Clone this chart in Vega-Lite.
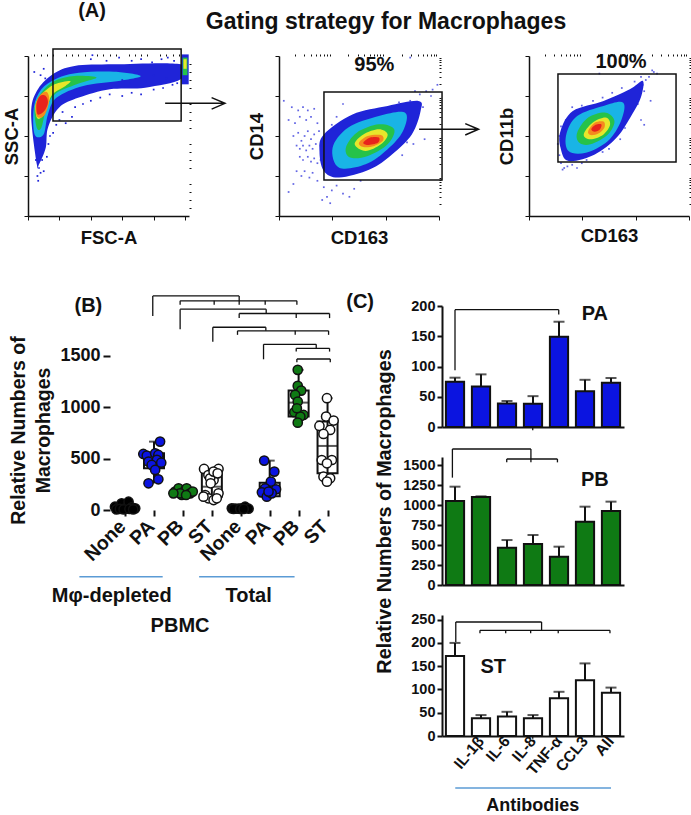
{
"$schema":"https://vega.github.io/schema/vega-lite/v6.json",
"background":"white",
"padding":{"left":2,"top":1,"right":0,"bottom":0},
"config":{"view":{"stroke":null},"font":"Liberation Sans",
"axis":{"labelFont":"Liberation Sans","titleFont":"Liberation Sans","labelFontWeight":"bold","titleFontWeight":"bold","labelColor":"#111","titleColor":"#111","domainColor":"#111","tickColor":"#111","grid":false,"labelOverlap":false,"format":"d"},
"text":{"font":"Liberation Sans","fontWeight":"bold","color":"#111"}},
"resolve":{"scale":{"fill":"independent"}},
"datasets":{
"c1":[
{"level":0,"i":1,"x":5.6,"y":32.3},{"level":0,"i":2,"x":2,"y":63.5},{"level":0,"i":3,"x":5.6,"y":78.1},{"level":0,"i":4,"x":15.5,"y":88.5},{"level":0,"i":5,"x":29.6,"y":93.8},{"level":0,"i":6,"x":54.9,"y":94.8},{"level":0,"i":7,"x":97.2,"y":94.8},{"level":0,"i":8,"x":97.2,"y":85.4},{"level":0,"i":9,"x":74.6,"y":80.2},{"level":0,"i":10,"x":52.1,"y":79.2},{"level":0,"i":11,"x":32.4,"y":74},{"level":0,"i":12,"x":19.7,"y":67.7},{"level":0,"i":13,"x":12.7,"y":55.2},{"level":0,"i":14,"x":11.3,"y":42.7},{"level":0,"i":15,"x":7,"y":32.3},
{"level":1,"i":1,"x":4.2,"y":51},{"level":1,"i":2,"x":3.7,"y":67.7},{"level":1,"i":3,"x":8.5,"y":79.2},{"level":1,"i":4,"x":18.3,"y":86},{"level":1,"i":5,"x":32.4,"y":89.6},{"level":1,"i":6,"x":54.9,"y":90.2},{"level":1,"i":7,"x":71.8,"y":87.5},{"level":1,"i":8,"x":57.7,"y":84.4},{"level":1,"i":9,"x":35.2,"y":81.3},{"level":1,"i":10,"x":18.3,"y":74},{"level":1,"i":11,"x":12.7,"y":63.5},{"level":1,"i":12,"x":9.9,"y":51},
{"level":2,"i":1,"x":5.6,"y":55.2},{"level":2,"i":2,"x":4.2,"y":67.7},{"level":2,"i":3,"x":8.5,"y":77},{"level":2,"i":4,"x":16.9,"y":84.4},{"level":2,"i":5,"x":29.6,"y":87.5},{"level":2,"i":6,"x":43.7,"y":86.5},{"level":2,"i":7,"x":31,"y":82.3},{"level":2,"i":8,"x":16.9,"y":76},{"level":2,"i":9,"x":11.3,"y":65.6},{"level":2,"i":10,"x":8.5,"y":55.2},
{"level":3,"i":1,"x":5.6,"y":61.5},{"level":3,"i":2,"x":4.8,"y":69.8},{"level":3,"i":3,"x":8.5,"y":76},{"level":3,"i":4,"x":16.9,"y":82.3},{"level":3,"i":5,"x":26.8,"y":84.4},{"level":3,"i":6,"x":23.9,"y":81.3},{"level":3,"i":7,"x":15.5,"y":76},{"level":3,"i":8,"x":12.1,"y":67.7},{"level":3,"i":9,"x":8.5,"y":61.5},
{"level":4,"i":1,"x":5.8,"y":62},{"level":4,"i":2,"x":5,"y":70},{"level":4,"i":3,"x":8,"y":76},{"level":4,"i":4,"x":12,"y":77.5},{"level":4,"i":5,"x":13.5,"y":72},{"level":4,"i":6,"x":10.5,"y":63},
{"level":5,"i":1,"x":6.2,"y":63.5},{"level":5,"i":2,"x":5.4,"y":69.8},{"level":5,"i":3,"x":7.6,"y":75},{"level":5,"i":4,"x":11.3,"y":75},{"level":5,"i":5,"x":12.7,"y":70.8},{"level":5,"i":6,"x":10.4,"y":65.6}],
"c1b":[
{"level":0,"i":1,"x":97.7,"y":82.3},{"level":0,"i":2,"x":97.7,"y":101},{"level":0,"i":3,"x":102.3,"y":101},{"level":0,"i":4,"x":102.3,"y":82.3},
{"level":2,"i":1,"x":98.5,"y":88},{"level":2,"i":2,"x":98.5,"y":99},{"level":2,"i":3,"x":101.5,"y":99},{"level":2,"i":4,"x":101.5,"y":88},
{"level":3,"i":1,"x":99,"y":92},{"level":3,"i":2,"x":99,"y":98},{"level":3,"i":3,"x":101,"y":98},{"level":3,"i":4,"x":101,"y":92}],
"d1":[{"x":7,"y":30},{"x":6,"y":25},{"x":6.5,"y":22},{"x":9,"y":35},{"x":10,"y":28},{"x":5,"y":35},{"x":8,"y":27},{"x":12,"y":37},{"x":13,"y":45},{"x":14,"y":50},{"x":16,"y":52},{"x":18,"y":57},{"x":20,"y":60},{"x":24,"y":58},{"x":28,"y":62},{"x":22,"y":65},{"x":30,"y":68},{"x":35,"y":70},{"x":40,"y":72},{"x":46,"y":74},{"x":52,"y":76},{"x":60,"y":75},{"x":66,"y":77},{"x":72,"y":76},{"x":80,"y":79},{"x":86,"y":80},{"x":92,"y":82},{"x":95,"y":83},{"x":40,"y":98},{"x":50,"y":97},{"x":58,"y":99},{"x":66,"y":97},{"x":72,"y":98},{"x":79,"y":96},{"x":85,"y":98},{"x":89,"y":99},{"x":93,"y":97},{"x":41,"y":100.5},{"x":4,"y":90},{"x":8,"y":88},{"x":10,"y":92},{"x":11,"y":86},{"x":60,"y":85},{"x":70,"y":90},{"x":80,"y":88},{"x":88,"y":86},{"x":75,"y":84},{"x":65,"y":83}],
"c2":[
{"level":0,"i":1,"x":28,"y":51},{"level":0,"i":2,"x":45.9,"y":63.5},{"level":0,"i":3,"x":67.9,"y":68.8},{"level":0,"i":4,"x":87.1,"y":71.9},{"level":0,"i":5,"x":88.5,"y":65.6},{"level":0,"i":6,"x":83,"y":51},{"level":0,"i":7,"x":70.6,"y":38.5},{"level":0,"i":8,"x":56.9,"y":29.2},{"level":0,"i":9,"x":37.6,"y":24},{"level":0,"i":10,"x":28,"y":28.1},{"level":0,"i":11,"x":25.3,"y":40.6},
{"level":1,"i":1,"x":33.5,"y":42.7},{"level":1,"i":2,"x":43.1,"y":55.2},{"level":1,"i":3,"x":62.4,"y":62.5},{"level":1,"i":4,"x":78.8,"y":64.6},{"level":1,"i":5,"x":77.5,"y":53.1},{"level":1,"i":6,"x":67.9,"y":41.7},{"level":1,"i":7,"x":54.1,"y":32.3},{"level":1,"i":8,"x":37.6,"y":30.2},
{"level":2,"i":1,"x":41.8,"y":42.7},{"level":2,"i":2,"x":48.6,"y":52.1},{"level":2,"i":3,"x":62.4,"y":57.3},{"level":2,"i":4,"x":72,"y":54.2},{"level":2,"i":5,"x":67.9,"y":44.8},{"level":2,"i":6,"x":55.5,"y":37.5},{"level":2,"i":7,"x":44.5,"y":36.5},
{"level":3,"i":1,"x":47.3,"y":44.8},{"level":3,"i":2,"x":52.7,"y":51},{"level":3,"i":3,"x":62.4,"y":54.2},{"level":3,"i":4,"x":67.9,"y":51},{"level":3,"i":5,"x":63.7,"y":44.8},{"level":3,"i":6,"x":54.1,"y":40.6},
{"level":4,"i":1,"x":50,"y":45.8},{"level":4,"i":2,"x":55.5,"y":50},{"level":4,"i":3,"x":63.7,"y":50.6},{"level":4,"i":4,"x":65.1,"y":47.3},{"level":4,"i":5,"x":59.6,"y":43.8},{"level":4,"i":6,"x":52.7,"y":43.1},
{"level":5,"i":1,"x":52.7,"y":45.8},{"level":5,"i":2,"x":56.9,"y":49},{"level":5,"i":3,"x":62.4,"y":49},{"level":5,"i":4,"x":61.8,"y":45.8},{"level":5,"i":5,"x":55.5,"y":44.4}],
"d2":[{"x":3,"y":72},{"x":8,"y":68},{"x":12,"y":66},{"x":15,"y":68},{"x":18,"y":66},{"x":22,"y":67},{"x":6,"y":60},{"x":10,"y":58},{"x":13,"y":62},{"x":17,"y":60},{"x":20,"y":62},{"x":24,"y":58},{"x":9,"y":50},{"x":12,"y":52},{"x":14,"y":47},{"x":16,"y":50},{"x":18,"y":53},{"x":20,"y":48},{"x":22,"y":51},{"x":25,"y":53},{"x":11,"y":44},{"x":13,"y":42},{"x":15,"y":44},{"x":17,"y":41},{"x":19,"y":44},{"x":21,"y":42},{"x":23,"y":45},{"x":26,"y":44},{"x":13,"y":37},{"x":15,"y":35},{"x":18,"y":37},{"x":20,"y":34},{"x":22,"y":36},{"x":24,"y":33},{"x":26,"y":35},{"x":6,"y":15},{"x":9,"y":20},{"x":11,"y":28},{"x":14,"y":25},{"x":16,"y":28},{"x":19,"y":24},{"x":21,"y":27},{"x":24,"y":22},{"x":28,"y":18},{"x":30,"y":12},{"x":33,"y":16},{"x":36,"y":19},{"x":40,"y":14},{"x":44,"y":12},{"x":47,"y":17},{"x":51,"y":22},{"x":32,"y":8},{"x":27,"y":10},{"x":88,"y":76},{"x":85,"y":78},{"x":92,"y":78},{"x":95,"y":75},{"x":96,"y":79},{"x":99,"y":82},{"x":90,"y":68},{"x":82,"y":72},{"x":75,"y":71},{"x":84,"y":45},{"x":80,"y":46},{"x":77,"y":38},{"x":91,"y":48},{"x":82,"y":99},{"x":40,"y":70},{"x":36,"y":62},{"x":33,"y":57}],
"c3":[
{"level":0,"i":1,"x":19.7,"y":53.1},{"level":0,"i":2,"x":27.4,"y":65.6},{"level":0,"i":3,"x":46.6,"y":71.9},{"level":0,"i":4,"x":63,"y":79.2},{"level":0,"i":5,"x":71.2,"y":84.4},{"level":0,"i":6,"x":69.9,"y":74},{"level":0,"i":7,"x":64.4,"y":63.5},{"level":0,"i":8,"x":54.8,"y":49},{"level":0,"i":9,"x":41.1,"y":38.5},{"level":0,"i":10,"x":24.7,"y":34.4},{"level":0,"i":11,"x":19.7,"y":42.7},
{"level":1,"i":1,"x":23.3,"y":51},{"level":1,"i":2,"x":30.1,"y":62.5},{"level":1,"i":3,"x":46.6,"y":68.8},{"level":1,"i":4,"x":58.9,"y":70.8},{"level":1,"i":5,"x":57.5,"y":59.4},{"level":1,"i":6,"x":49.3,"y":46.9},{"level":1,"i":7,"x":35.6,"y":39.6},{"level":1,"i":8,"x":24.7,"y":40.6},
{"level":2,"i":1,"x":30.1,"y":52.1},{"level":2,"i":2,"x":37,"y":61.5},{"level":2,"i":3,"x":47.9,"y":64.6},{"level":2,"i":4,"x":53.4,"y":59.4},{"level":2,"i":5,"x":49.3,"y":51},{"level":2,"i":6,"x":38.4,"y":44.8},{"level":2,"i":7,"x":31.5,"y":45.8},
{"level":3,"i":1,"x":34.2,"y":51},{"level":3,"i":2,"x":39.7,"y":58.3},{"level":3,"i":3,"x":47.9,"y":61.5},{"level":3,"i":4,"x":50.7,"y":57.3},{"level":3,"i":5,"x":46.6,"y":51},{"level":3,"i":6,"x":38.4,"y":47.9},
{"level":4,"i":1,"x":37,"y":53.1},{"level":4,"i":2,"x":41.1,"y":58.3},{"level":4,"i":3,"x":46.6,"y":59},{"level":4,"i":4,"x":47.1,"y":55.2},{"level":4,"i":5,"x":43.3,"y":51.5},{"level":4,"i":6,"x":38.4,"y":50.6},
{"level":5,"i":1,"x":38.9,"y":54.2},{"level":5,"i":2,"x":41.6,"y":57},{"level":5,"i":3,"x":45.2,"y":57.3},{"level":5,"i":4,"x":44.4,"y":54.2},{"level":5,"i":5,"x":41.1,"y":52.7}],
"d3":[{"x":20,"y":33},{"x":22,"y":30},{"x":21,"y":29},{"x":24,"y":31},{"x":27,"y":32},{"x":30,"y":30},{"x":33,"y":33},{"x":36,"y":35},{"x":19,"y":38},{"x":18,"y":45},{"x":19,"y":50},{"x":20,"y":56},{"x":23,"y":60},{"x":27,"y":68},{"x":33,"y":69},{"x":40,"y":72},{"x":46,"y":74},{"x":52,"y":77},{"x":58,"y":80},{"x":66,"y":84},{"x":70,"y":87},{"x":71,"y":82},{"x":72,"y":78},{"x":68,"y":70},{"x":76,"y":72},{"x":70,"y":60},{"x":72,"y":57},{"x":60,"y":55},{"x":57,"y":48},{"x":50,"y":42},{"x":46,"y":40},{"x":44,"y":89},{"x":78,"y":90},{"x":80,"y":89},{"x":77,"y":91},{"x":75,"y":87},{"x":73,"y":85}],
"box":[
{"pos":1,"lo":6,"q1":8,"med":16,"q3":30,"hi":81,"grp":"None"},
{"pos":2,"lo":260,"q1":406,"med":471,"q3":552,"hi":666,"grp":"PA"},
{"pos":3,"lo":146,"q1":150,"med":170,"q3":200,"hi":211,"grp":"PB"},
{"pos":4,"lo":97,"q1":130,"med":227,"q3":364,"hi":400,"grp":"ST"},
{"pos":5,"lo":10,"q1":12,"med":14,"q3":18,"hi":32,"grp":"None"},
{"pos":6,"lo":130,"q1":135,"med":195,"q3":266,"hi":481,"grp":"PA"},
{"pos":7,"lo":851,"q1":910,"med":1046,"q3":1163,"hi":1365,"grp":"PB"},
{"pos":8,"lo":276,"q1":357,"med":624,"q3":861,"hi":1089,"grp":"ST"}],
"pts":[
{"x":0.65,"v":32,"grp":"None"},{"x":0.77,"v":23,"grp":"None"},{"x":0.88,"v":65,"grp":"None"},{"x":1,"v":16,"grp":"None"},{"x":1.12,"v":81,"grp":"None"},{"x":1.23,"v":26,"grp":"None"},{"x":1.35,"v":16,"grp":"None"},{"x":0.7,"v":6,"grp":"None"},{"x":0.82,"v":10,"grp":"None"},{"x":0.95,"v":6,"grp":"None"},{"x":1.15,"v":10,"grp":"None"},{"x":1.28,"v":6,"grp":"None"},
{"x":2.21,"v":666,"grp":"PA"},{"x":1.63,"v":546,"grp":"PA"},{"x":1.75,"v":530,"grp":"PA"},{"x":2.04,"v":552,"grp":"PA"},{"x":2.15,"v":536,"grp":"PA"},{"x":1.81,"v":471,"grp":"PA"},{"x":2.1,"v":488,"grp":"PA"},{"x":1.92,"v":439,"grp":"PA"},{"x":2.25,"v":461,"grp":"PA"},{"x":2.04,"v":390,"grp":"PA"},{"x":2.15,"v":299,"grp":"PA"},{"x":1.81,"v":260,"grp":"PA"},
{"x":2.73,"v":179,"grp":"PB"},{"x":2.85,"v":211,"grp":"PB"},{"x":2.96,"v":146,"grp":"PB"},{"x":3.08,"v":195,"grp":"PB"},{"x":3.13,"v":211,"grp":"PB"},{"x":3.25,"v":162,"grp":"PB"},{"x":3.34,"v":179,"grp":"PB"},{"x":2.9,"v":162,"grp":"PB"},{"x":3.11,"v":146,"grp":"PB"},{"x":2.67,"v":162,"grp":"PB"},
{"x":3.73,"v":400,"grp":"ST"},{"x":4.23,"v":400,"grp":"ST"},{"x":3.88,"v":341,"grp":"ST"},{"x":4.06,"v":292,"grp":"ST"},{"x":3.94,"v":309,"grp":"ST"},{"x":4.06,"v":374,"grp":"ST"},{"x":3.77,"v":146,"grp":"ST"},{"x":3.88,"v":114,"grp":"ST"},{"x":4.06,"v":97,"grp":"ST"},{"x":4.23,"v":162,"grp":"ST"},{"x":3.71,"v":130,"grp":"ST"},{"x":4.17,"v":114,"grp":"ST"},{"x":3.96,"v":260,"grp":"ST"},{"x":4.2,"v":357,"grp":"ST"},
{"x":4.69,"v":16,"grp":"None"},{"x":4.81,"v":13,"grp":"None"},{"x":4.92,"v":13,"grp":"None"},{"x":5.04,"v":16,"grp":"None"},{"x":5.15,"v":32,"grp":"None"},{"x":5.27,"v":13,"grp":"None"},{"x":4.75,"v":10,"grp":"None"},{"x":4.98,"v":10,"grp":"None"},{"x":5.1,"v":10,"grp":"None"},
{"x":5.81,"v":481,"grp":"PA"},{"x":6.16,"v":374,"grp":"PA"},{"x":6.04,"v":276,"grp":"PA"},{"x":5.84,"v":211,"grp":"PA"},{"x":6.22,"v":201,"grp":"PA"},{"x":5.73,"v":172,"grp":"PA"},{"x":5.9,"v":130,"grp":"PA"},{"x":6.07,"v":162,"grp":"PA"},{"x":5.96,"v":179,"grp":"PA"},
{"x":6.97,"v":1365,"grp":"PB"},{"x":6.97,"v":1209,"grp":"PB"},{"x":7.09,"v":1163,"grp":"PB"},{"x":6.88,"v":1121,"grp":"PB"},{"x":6.97,"v":1056,"grp":"PB"},{"x":7.17,"v":926,"grp":"PB"},{"x":6.85,"v":952,"grp":"PB"},{"x":7.06,"v":910,"grp":"PB"},{"x":6.97,"v":851,"grp":"PB"},{"x":6.94,"v":991,"grp":"PB"},
{"x":7.98,"v":1089,"grp":"ST"},{"x":7.95,"v":910,"grp":"ST"},{"x":8.21,"v":871,"grp":"ST"},{"x":7.72,"v":819,"grp":"ST"},{"x":8.09,"v":780,"grp":"ST"},{"x":7.86,"v":741,"grp":"ST"},{"x":7.8,"v":487,"grp":"ST"},{"x":8.15,"v":487,"grp":"ST"},{"x":7.98,"v":455,"grp":"ST"},{"x":7.86,"v":325,"grp":"ST"},{"x":8.09,"v":309,"grp":"ST"},{"x":7.98,"v":276,"grp":"ST"}],
"brB":[
{"x":1.957,"y":1890,"x2":1.957,"y2":2085},{"x":1.957,"y":2085,"x2":4.945,"y2":2085},{"x":4.945,"y":2085,"x2":4.945,"y2":1999},
{"x":2.903,"y":2037,"x2":6.94,"y2":2037},{"x":2.903,"y":2037,"x2":2.903,"y2":1999},{"x":4.08,"y":2037,"x2":4.08,"y2":1999},{"x":5.844,"y":2037,"x2":5.844,"y2":1999},{"x":6.94,"y":2037,"x2":6.94,"y2":1999},
{"x":2.903,"y":1760,"x2":2.903,"y2":1956},{"x":2.903,"y":1956,"x2":5.879,"y2":1956},{"x":5.879,"y":1956,"x2":5.879,"y2":1917},
{"x":4.945,"y":1914,"x2":8.07,"y2":1914},{"x":4.945,"y":1914,"x2":4.945,"y2":1869},{"x":6.917,"y":1914,"x2":6.917,"y2":1869},{"x":8.07,"y":1914,"x2":8.07,"y2":1869},
{"x":4.033,"y":1640,"x2":4.033,"y2":1780},{"x":4.033,"y":1780,"x2":5.867,"y2":1780},{"x":5.867,"y":1780,"x2":5.867,"y2":1747},
{"x":4.887,"y":1745,"x2":8.036,"y2":1745},{"x":4.887,"y":1745,"x2":4.887,"y2":1706},{"x":6.882,"y":1745,"x2":6.882,"y2":1706},{"x":8.036,"y":1745,"x2":8.036,"y2":1706},
{"x":5.787,"y":1468,"x2":5.787,"y2":1614},{"x":5.787,"y":1614,"x2":7.609,"y2":1614},{"x":7.609,"y":1614,"x2":7.609,"y2":1575},
{"x":6.917,"y":1575,"x2":8.07,"y2":1575},{"x":6.917,"y":1575,"x2":6.917,"y2":1543},{"x":8.07,"y":1575,"x2":8.07,"y2":1543},
{"x":6.94,"y":1471,"x2":8.094,"y2":1471},{"x":6.94,"y":1471,"x2":6.94,"y2":1439},{"x":8.094,"y":1471,"x2":8.094,"y2":1439}],
"pa":[{"ab":"Control","v":75,"hi":81.5},{"ab":"IL-1β","v":67,"hi":87},{"ab":"IL-6","v":39,"hi":43},{"ab":"IL-8","v":38.6,"hi":51},{"ab":"TNF-α","v":149,"hi":174},{"ab":"CCL3","v":59,"hi":78},{"ab":"All","v":73,"hi":81}],
"pb":[{"ab":"Control","v":1050,"hi":1229},{"ab":"IL-1β","v":1100,"hi":1108},{"ab":"IL-6","v":467,"hi":562},{"ab":"IL-8","v":512,"hi":625},{"ab":"TNF-α","v":354,"hi":479},{"ab":"CCL3","v":792,"hi":979},{"ab":"All","v":925,"hi":1042}],
"st":[{"ab":"Control","v":172,"hi":200},{"ab":"IL-1β","v":38,"hi":45},{"ab":"IL-6","v":42,"hi":52},{"ab":"IL-8","v":38,"hi":45},{"ab":"TNF-α","v":81,"hi":95},{"ab":"CCL3","v":120,"hi":156},{"ab":"All","v":93,"hi":104}]
},
"vconcat":[
{"hconcat":[
{"width":161,"height":160,
"resolve":{"axis":{"x":"independent","y":"independent"}},
"layer":[
{"data":{"name":"c1"},"mark":{"type":"line","filled":true,"interpolate":"cardinal-closed","strokeWidth":0},
"encoding":{"x":{"field":"x","type":"quantitative","scale":{"domain":[0,102.5],"nice":false,"padding":0},"axis":{"values":[0,20,40,60,80,100],"tickCount":100,"labels":false,"tickSize":4,"tickWidth":1,"domainWidth":1.5,"title":"FSC-A","titleFontSize":18.5,"titlePadding":8}},
"y":{"field":"y","type":"quantitative","scale":{"domain":[0,100],"nice":false},"axis":{"values":[0,25,50,75,100],"tickCount":100,"labels":false,"tickSize":4,"tickWidth":1,"domainWidth":1.5,"title":"SSC-A","titleFontSize":18.5,"titlePadding":2}},
"fill":{"field":"level","type":"ordinal","scale":{"domain":[0,1,2,3,4,5],"range":["#1f24d8","#19b4e6","#26c24a","#e8e62b","#f58a1f","#e8231c"]},"legend":null},"detail":{"field":"level"},"order":{"field":"i"}}},
{"data":{"name":"c1b"},"mark":{"type":"line","filled":true,"strokeWidth":0},
"encoding":{"x":{"field":"x","type":"quantitative","axis":null},"y":{"field":"y","type":"quantitative","axis":null},
"fill":{"field":"level","type":"ordinal","scale":{"domain":[0,1,2,3,4,5],"range":["#1f24d8","#19b4e6","#26c24a","#e8e62b","#f58a1f","#e8231c"]},"legend":null},"detail":{"field":"level"},"order":{"field":"i"}}},
{"data":{"name":"d1"},"mark":{"type":"square","size":3,"opacity":1,"color":"#1f24d8"},
"encoding":{"x":{"field":"x","type":"quantitative","axis":{"values":[4,8,12,16,24,28,32,36,44,48,52,56,64,68,72,76,84,88,92,96],"tickCount":100,"labels":false,"domain":false,"tickSize":2,"tickWidth":1,"title":null}},
"y":{"field":"y","type":"quantitative","axis":{"values":[5,10,15,20,30,35,40,45,55,60,65,70,80,85,90,95],"tickCount":100,"labels":false,"domain":false,"tickSize":2,"tickWidth":1,"title":null}}}},
{"data":{"values":[{"a":15.9,"b":97.5,"c":59.4,"d":104.4}]},"mark":{"type":"rect","fill":null,"stroke":"#111","strokeWidth":1.5},
"encoding":{"x":{"field":"a","type":"quantitative","axis":null},"x2":{"field":"b"},"y":{"field":"c","type":"quantitative","axis":null},"y2":{"field":"d"}}},
{"data":{"values":[{"i":1,"x":87.3,"y":70.4},{"i":2,"x":125.4,"y":70.4},{"i":3,"x":116.9,"y":74},{"i":4,"x":125.4,"y":70.4},{"i":5,"x":116.9,"y":66.8}]},"mark":{"type":"line","color":"#111","strokeWidth":1.5},
"encoding":{"x":{"field":"x","type":"quantitative","axis":null},"y":{"field":"y","type":"quantitative","axis":null},"order":{"field":"i"}}},
{"data":{"values":[{"x":40.8,"y":128,"t":"(A)"}]},"mark":{"type":"text","fontSize":20,"align":"center","baseline":"middle"},
"encoding":{"x":{"field":"x","type":"quantitative","axis":null},"y":{"field":"y","type":"quantitative","axis":null},"text":{"field":"t"}}}
]},
{"width":160,"height":160,
"title":{"text":"Gating strategy for Macrophages","font":"Liberation Sans","fontSize":23,"fontWeight":"bold","color":"#111","anchor":"middle","dx":27,"offset":20},
"resolve":{"axis":{"x":"independent","y":"independent"}},
"layer":[
{"data":{"name":"c2"},"mark":{"type":"line","filled":true,"interpolate":"cardinal-closed","strokeWidth":0},
"encoding":{"x":{"field":"x","type":"quantitative","scale":{"domain":[0,100],"nice":false,"padding":0},"axis":{"values":[0,33.3,66.6,100],"tickCount":100,"labels":false,"tickSize":4,"tickWidth":1,"domainWidth":1.5,"title":"CD163","titleFontSize":18.5,"titlePadding":8}},
"y":{"field":"y","type":"quantitative","scale":{"domain":[0,100],"nice":false},"axis":{"values":[0,25,50,75,100],"tickCount":100,"labels":false,"tickSize":4,"tickWidth":1,"domainWidth":1.5,"title":"CD14","titleFontSize":18.5,"titlePadding":8}},
"fill":{"field":"level","type":"ordinal","scale":{"domain":[0,1,2,3,4,5],"range":["#1f24d8","#19b4e6","#26c24a","#e8e62b","#f58a1f","#e8231c"]},"legend":null},"detail":{"field":"level"},"order":{"field":"i"}}},
{"data":{"name":"d2"},"mark":{"type":"square","size":3,"color":"#1f24d8"},
"encoding":{"x":{"field":"x","type":"quantitative","axis":{"values":[10,15.9,20,23.3,25.9,28.1,30,31.8,43.3,49.2,53.3,56.6,59.2,61.4,63.3,65.1,76.6,82.5,86.6,89.9,92.5,94.7,96.6,98.4],"tickCount":100,"labels":false,"domain":false,"tickSize":2,"tickWidth":1,"title":null}},
"y":{"field":"y","type":"quantitative","axis":{"values":[7.5,11.9,15,17.5,19.5,21.1,22.6,23.9,32.5,36.9,40,42.5,44.5,46.1,47.6,48.9,57.5,61.9,65,67.5,69.5,71.1,72.6,73.9,82.5,86.9,90,92.5,94.5,96.1,97.6,98.9],"tickCount":100,"labels":false,"domain":false,"tickSize":2,"tickWidth":1,"title":null}}}},
{"data":{"values":[{"a":28.1,"b":101.9,"c":22.5,"d":77.5}]},"mark":{"type":"rect","fill":null,"stroke":"#111","strokeWidth":1.5},
"encoding":{"x":{"field":"a","type":"quantitative","axis":null},"x2":{"field":"b"},"y":{"field":"c","type":"quantitative","axis":null},"y2":{"field":"d"}}},
{"data":{"values":[{"i":1,"x":87.6,"y":54.2},{"i":2,"x":124.7,"y":54.2},{"i":3,"x":116.4,"y":57.7},{"i":4,"x":124.7,"y":54.2},{"i":5,"x":116.4,"y":50.6}]},"mark":{"type":"line","color":"#111","strokeWidth":1.5},
"encoding":{"x":{"field":"x","type":"quantitative","axis":null},"y":{"field":"y","type":"quantitative","axis":null},"order":{"field":"i"}}},
{"data":{"values":[{"x":59.6,"y":94.4,"t":"95%"}]},"mark":{"type":"text","fontSize":20,"align":"center","baseline":"middle"},
"encoding":{"x":{"field":"x","type":"quantitative","axis":null},"y":{"field":"y","type":"quantitative","axis":null},"text":{"field":"t"}}}
]},
{"width":160,"height":160,
"resolve":{"axis":{"x":"independent","y":"independent"}},
"layer":[
{"data":{"name":"c3"},"mark":{"type":"line","filled":true,"interpolate":"cardinal-closed","strokeWidth":0},
"encoding":{"x":{"field":"x","type":"quantitative","scale":{"domain":[0,100],"nice":false,"padding":0},"axis":{"values":[0,33.3,66.6,100],"tickCount":100,"labels":false,"tickSize":4,"tickWidth":1,"domainWidth":1.5,"title":"CD163","titleFontSize":18.5,"titlePadding":6}},
"y":{"field":"y","type":"quantitative","scale":{"domain":[0,100],"nice":false},"axis":{"values":[0,25,50,75,100],"tickCount":100,"labels":false,"tickSize":4,"tickWidth":1,"domainWidth":1.5,"title":"CD11b","titleFontSize":18.5,"titlePadding":8}},
"fill":{"field":"level","type":"ordinal","scale":{"domain":[0,1,2,3,4,5],"range":["#1f24d8","#19b4e6","#26c24a","#e8e62b","#f58a1f","#e8231c"]},"legend":null},"detail":{"field":"level"},"order":{"field":"i"}}},
{"data":{"name":"d3"},"mark":{"type":"square","size":3,"color":"#1f24d8"},
"encoding":{"x":{"field":"x","type":"quantitative","axis":{"values":[10,15.9,20,23.3,25.9,28.1,30,31.8,43.3,49.2,53.3,56.6,59.2,61.4,63.3,65.1,76.6,82.5,86.6,89.9,92.5,94.7,96.6,98.4],"tickCount":100,"labels":false,"domain":false,"tickSize":2,"tickWidth":1,"title":null}},
"y":{"field":"y","type":"quantitative","axis":{"values":[7.5,11.9,15,17.5,19.5,21.1,22.6,23.9,32.5,36.9,40,42.5,44.5,46.1,47.6,48.9,57.5,61.9,65,67.5,69.5,71.1,72.6,73.9,82.5,86.9,90,92.5,94.5,96.1,97.6,98.9],"tickCount":100,"labels":false,"domain":false,"tickSize":2,"tickWidth":1,"title":null}}}},
{"data":{"values":[{"a":18.1,"b":91.9,"c":33.75,"d":88.75}]},"mark":{"type":"rect","fill":null,"stroke":"#111","strokeWidth":1.5},
"encoding":{"x":{"field":"a","type":"quantitative","axis":null},"x2":{"field":"b"},"y":{"field":"c","type":"quantitative","axis":null},"y2":{"field":"d"}}},
{"data":{"values":[{"x":57.5,"y":96.5,"t":"100%"}]},"mark":{"type":"text","fontSize":20,"align":"center","baseline":"middle"},
"encoding":{"x":{"field":"x","type":"quantitative","axis":null},"y":{"field":"y","type":"quantitative","axis":null},"text":{"field":"t"}}}
]}
],"spacing":90,"bounds":"flush"},
{"hconcat":[
{"width":314,"height":204,
"layer":[
{"data":{"name":"box"},"mark":{"type":"rule","color":"#111","strokeWidth":2},
"encoding":{"x":{"field":"pos","type":"quantitative","scale":{"domain":[-2.357,8.5],"nice":false,"padding":0},
"axis":{"values":[1,2,3,4,5,6,7,8],"tickCount":100,"labelExpr":"['None','PA','PB','ST','None','PA','PB','ST'][datum.value-1]","labelAngle":-45,"labelAlign":"right","labelBaseline":"middle","labelFontSize":19.5,"labelPadding":7,"labelOffset":-3,"tickSize":6,"tickWidth":2,"domain":false,"title":null}},
"y":{"field":"lo","type":"quantitative","scale":{"domain":[0,1987],"nice":false},
"axis":{"values":[0,500,1000,1500],"tickCount":100,"domain":false,"offset":-82,"tickSize":7,"tickWidth":2,"labelFontSize":18,"labelPadding":3,"title":["Relative Numbers of","Macrophages"],"titleFontSize":19.5,"titleX":-82,"titleY":124,"titleLineHeight":25}},
"y2":{"field":"hi"}}},
{"mark":{"type":"rule","color":"#111","strokeWidth":2},"encoding":{"x":{"datum":0.48},"y":{"datum":0},"y2":{"datum":1500}}},
{"mark":{"type":"rule","color":"#111","strokeWidth":2},"encoding":{"x":{"datum":0.48},"x2":{"datum":8.5},"y":{"datum":0}}},
{"data":{"name":"box"},"mark":{"type":"bar","size":20,"fill":"white","fillOpacity":0,"stroke":"#111","strokeWidth":2},
"encoding":{"x":{"field":"pos","type":"quantitative"},"y":{"field":"q1","type":"quantitative"},"y2":{"field":"q3"}}},
{"data":{"name":"box"},"mark":{"type":"tick","orient":"horizontal","size":20,"thickness":2,"color":"#111"},
"encoding":{"x":{"field":"pos","type":"quantitative"},"y":{"field":"med","type":"quantitative"}}},
{"data":{"name":"box"},"mark":{"type":"tick","orient":"horizontal","size":10,"thickness":2,"color":"#111"},
"encoding":{"x":{"field":"pos","type":"quantitative"},"y":{"field":"hi","type":"quantitative"}}},
{"data":{"name":"pts"},"mark":{"type":"point","filled":true,"size":85,"stroke":"#111","strokeWidth":1.5,"opacity":1},
"encoding":{"x":{"field":"x","type":"quantitative"},"y":{"field":"v","type":"quantitative"},
"fill":{"field":"grp","type":"nominal","scale":{"domain":["None","PA","PB","ST"],"range":["#000000","#0b14e0","#0f7a14","#ffffff"]},"legend":null}}},
{"data":{"name":"brB"},"mark":{"type":"rule","color":"#111","strokeWidth":1.3},
"encoding":{"x":{"field":"x","type":"quantitative"},"x2":{"field":"x2"},"y":{"field":"y","type":"quantitative"},"y2":{"field":"y2"}}},
{"data":{"values":[{"x":-0.58,"x2":2.3,"y":-650},{"x":3.56,"x2":6.86,"y":-650}]},"mark":{"type":"rule","color":"#5b9bd5","strokeWidth":1.5},
"encoding":{"x":{"field":"x","type":"quantitative"},"x2":{"field":"x2"},"y":{"field":"y","type":"quantitative"}}},
{"data":{"values":[{"x":0.54,"y":-838,"t":"Mφ-depleted"},{"x":5.27,"y":-838,"t":"Total"},{"x":2.9,"y":-1128,"t":"PBMC"},{"x":-0.27,"y":1989,"t":"(B)"}]},"mark":{"type":"text","fontSize":20,"align":"center","baseline":"middle"},
"encoding":{"x":{"field":"x","type":"quantitative"},"y":{"field":"y","type":"quantitative"},"text":{"field":"t"}}}
]},
{"vconcat":[
{"width":182,"height":121,"resolve":{"scale":{"x":"independent"}},
"layer":[
{"data":{"name":"pa"},"mark":{"type":"bar","color":"#0b14e0","stroke":"#111","strokeWidth":2},
"encoding":{"x":{"field":"ab","type":"nominal","sort":null,"scale":{"paddingInner":0.3,"paddingOuter":0.15},"axis":{"labels":false,"ticks":false,"domainWidth":2,"title":null}},
"y":{"field":"v","type":"quantitative","scale":{"domain":[0,200]},"axis":{"values":[0,50,100,150,200],"tickCount":100,"labelFontSize":14.5,"tickSize":5,"tickWidth":2,"domainWidth":2,"labelPadding":2,"title":null}}}},
{"data":{"name":"pa"},"mark":{"type":"rule","color":"#111","strokeWidth":2},"encoding":{"x":{"field":"ab","type":"nominal","sort":null,"axis":null},"y":{"field":"v","type":"quantitative"},"y2":{"field":"hi"}}},
{"data":{"name":"pa"},"mark":{"type":"tick","orient":"horizontal","size":11,"thickness":2,"color":"#111"},"encoding":{"x":{"field":"ab","type":"nominal","sort":null,"axis":null},"y":{"field":"hi","type":"quantitative"}}},
{"data":{"values":[{"x":1,"y":94,"x2":1,"y2":194},{"x":1,"y":194,"x2":4.99,"y2":194},{"x":4.99,"y":194,"x2":4.99,"y2":186},{"x":3.99,"y":0,"x2":3.99,"y2":-5.5}]},"mark":{"type":"rule","color":"#111","strokeWidth":1.3},
"encoding":{"x":{"field":"x","type":"quantitative","scale":{"domain":[0.5,7.5],"nice":false},"axis":null},"x2":{"field":"x2"},"y":{"field":"y","type":"quantitative"},"y2":{"field":"y2"}}},
{"data":{"values":[{"x":6.38,"y":186,"t":"PA"},{"x":-2.65,"y":207,"t":"(C)"}]},"mark":{"type":"text","fontSize":20,"align":"center","baseline":"middle"},
"encoding":{"x":{"field":"x","type":"quantitative","scale":{"domain":[0.5,7.5],"nice":false},"axis":null},"y":{"field":"y","type":"quantitative"},"text":{"field":"t"}}}
]},
{"width":182,"height":128,"resolve":{"scale":{"x":"independent"}},
"layer":[
{"data":{"name":"pb"},"mark":{"type":"bar","color":"#0f7a14","stroke":"#111","strokeWidth":2},
"encoding":{"x":{"field":"ab","type":"nominal","sort":null,"scale":{"paddingInner":0.3,"paddingOuter":0.15},"axis":{"labels":false,"ticks":false,"domainWidth":2,"title":null}},
"y":{"field":"v","type":"quantitative","scale":{"domain":[0,1600],"nice":false},"axis":{"values":[0,250,500,750,1000,1250,1500],"tickCount":100,"labelFontSize":14.5,"tickSize":5,"tickWidth":2,"domainWidth":2,"labelPadding":2,"title":"Relative Numbers of Macrophages","titleFontSize":19.8,"titleX":-48,"titleY":54}}}},
{"data":{"name":"pb"},"mark":{"type":"rule","color":"#111","strokeWidth":2},"encoding":{"x":{"field":"ab","type":"nominal","sort":null,"axis":null},"y":{"field":"v","type":"quantitative"},"y2":{"field":"hi"}}},
{"data":{"name":"pb"},"mark":{"type":"tick","orient":"horizontal","size":11,"thickness":2,"color":"#111"},"encoding":{"x":{"field":"ab","type":"nominal","sort":null,"axis":null},"y":{"field":"hi","type":"quantitative"}}},
{"data":{"values":[{"x":0.9,"y":1342,"x2":0.9,"y2":1700},{"x":0.9,"y":1700,"x2":3.92,"y2":1700},{"x":3.92,"y":1700,"x2":3.92,"y2":1533},{"x":2.99,"y":1575,"x2":4.94,"y2":1575},{"x":2.99,"y":1575,"x2":2.99,"y2":1533},{"x":4.94,"y":1575,"x2":4.94,"y2":1533}]},"mark":{"type":"rule","color":"#111","strokeWidth":1.3},
"encoding":{"x":{"field":"x","type":"quantitative","scale":{"domain":[0.5,7.5],"nice":false},"axis":null},"x2":{"field":"x2"},"y":{"field":"y","type":"quantitative"},"y2":{"field":"y2"}}},
{"data":{"values":[{"x":6.38,"y":1313,"t":"PB"}]},"mark":{"type":"text","fontSize":20,"align":"center","baseline":"middle"},
"encoding":{"x":{"field":"x","type":"quantitative","scale":{"domain":[0.5,7.5],"nice":false},"axis":null},"y":{"field":"y","type":"quantitative"},"text":{"field":"t"}}}
]},
{"width":182,"height":121,"resolve":{"scale":{"x":"independent"}},
"layer":[
{"data":{"name":"st"},"mark":{"type":"bar","color":"#ffffff","stroke":"#111","strokeWidth":2},
"encoding":{"x":{"field":"ab","type":"nominal","sort":null,"scale":{"paddingInner":0.3,"paddingOuter":0.15},"axis":{"labelExpr":"datum.value=='Control'?'':datum.value","labelAngle":-50,"labelAlign":"right","labelBaseline":"middle","labelFontSize":15.5,"labelPadding":2,"ticks":false,"domainWidth":2,"title":null}},
"y":{"field":"v","type":"quantitative","scale":{"domain":[0,250]},"axis":{"values":[0,50,100,150,200,250],"tickCount":100,"labelFontSize":14.5,"tickSize":5,"tickWidth":2,"domainWidth":2,"labelPadding":2,"title":null}}}},
{"data":{"name":"st"},"mark":{"type":"rule","color":"#111","strokeWidth":2},"encoding":{"x":{"field":"ab","type":"nominal","sort":null,"axis":null},"y":{"field":"v","type":"quantitative"},"y2":{"field":"hi"}}},
{"data":{"name":"st"},"mark":{"type":"tick","orient":"horizontal","size":11,"thickness":2,"color":"#111"},"encoding":{"x":{"field":"ab","type":"nominal","sort":null,"axis":null},"y":{"field":"hi","type":"quantitative"}}},
{"data":{"values":[{"x":1.03,"y":202,"x2":1.03,"y2":245},{"x":1.03,"y":245,"x2":4.33,"y2":245},{"x":4.33,"y":245,"x2":4.33,"y2":227},{"x":1.96,"y":227,"x2":6.96,"y2":227},{"x":1.96,"y":227,"x2":1.96,"y2":221},{"x":2.95,"y":227,"x2":2.95,"y2":221},{"x":3.91,"y":227,"x2":3.91,"y2":221},{"x":4.97,"y":227,"x2":4.97,"y2":221},{"x":6.96,"y":227,"x2":6.96,"y2":221},{"x":3.99,"y":0,"x2":3.99,"y2":-6}]},"mark":{"type":"rule","color":"#111","strokeWidth":1.3},
"encoding":{"x":{"field":"x","type":"quantitative","scale":{"domain":[0.5,7.5],"nice":false},"axis":null},"x2":{"field":"x2"},"y":{"field":"y","type":"quantitative"},"y2":{"field":"y2"}}},
{"data":{"values":[{"x":1.01,"x2":7,"y":-112}]},"mark":{"type":"rule","color":"#5b9bd5","strokeWidth":1.5},
"encoding":{"x":{"field":"x","type":"quantitative","scale":{"domain":[0.5,7.5],"nice":false},"axis":null},"x2":{"field":"x2"},"y":{"field":"y","type":"quantitative"}}},
{"data":{"values":[{"x":2.47,"y":149,"t":"ST"}]},"mark":{"type":"text","fontSize":20,"align":"center","baseline":"middle"},
"encoding":{"x":{"field":"x","type":"quantitative","scale":{"domain":[0.5,7.5],"nice":false},"axis":null},"y":{"field":"y","type":"quantitative"},"text":{"field":"t"}}},
{"data":{"values":[{"x":3.99,"y":-150,"t":"Antibodies"}]},"mark":{"type":"text","fontSize":18,"align":"center","baseline":"middle"},
"encoding":{"x":{"field":"x","type":"quantitative","scale":{"domain":[0.5,7.5],"nice":false},"axis":null},"y":{"field":"y","type":"quantitative"},"text":{"field":"t"}}}
]}
],"spacing":30,"bounds":"flush"}
],"spacing":100,"bounds":"flush"}
],"spacing":44,"bounds":"full"
}
